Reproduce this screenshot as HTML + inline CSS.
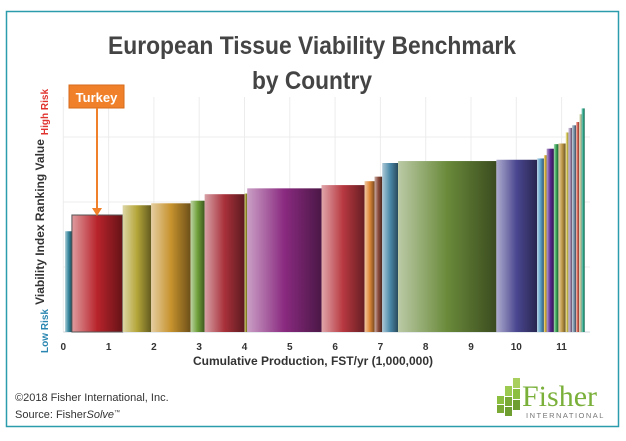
<!DOCTYPE html>
<html><head><meta charset="utf-8"><style>
body{margin:0;background:#fff;width:626px;height:436px;overflow:hidden;font-family:"Liberation Sans",sans-serif}
</style></head><body>
<svg id="chart" width="626" height="436" xmlns="http://www.w3.org/2000/svg">
<defs id="defs"></defs>
<rect x="6.5" y="11.5" width="612" height="415" fill="#fff" stroke="#2a9cab" stroke-width="1.5"/>
<text x="312" y="54" text-anchor="middle" font-size="25" font-weight="bold" fill="#444" textLength="408" lengthAdjust="spacingAndGlyphs">European Tissue Viability Benchmark</text>
<text x="312" y="89" text-anchor="middle" font-size="25" font-weight="bold" fill="#444" textLength="120" lengthAdjust="spacingAndGlyphs">by Country</text>
<g id="grid"></g><g id="bars"></g><g id="xticks"></g>
<text transform="translate(44,222) rotate(-90)" text-anchor="middle" font-size="12" font-weight="bold" fill="#333">Viability Index Ranking Value</text>
<text transform="translate(48,112) rotate(-90)" text-anchor="middle" font-size="10" font-weight="bold" fill="#e0332f">High Risk</text>
<text transform="translate(48,331) rotate(-90)" text-anchor="middle" font-size="10" font-weight="bold" fill="#2a86b0">Low Risk</text>
<text x="313" y="365" text-anchor="middle" font-size="12" font-weight="bold" fill="#333">Cumulative Production, FST/yr (1,000,000)</text>
<g>
<rect x="69" y="85" width="55" height="23" fill="#f0812a" stroke="#d66a1a"/>
<text x="96.5" y="102" text-anchor="middle" font-size="13" font-weight="bold" fill="#fff">Turkey</text>
<line x1="97" y1="108" x2="97" y2="212" stroke="#f0812a" stroke-width="2"/>
<polygon points="92,208 102,208 97,216" fill="#f0812a"/>
</g>
<text x="15" y="401" font-size="11" fill="#333">©2018 Fisher International, Inc.</text>
<text x="15" y="418" font-size="11" fill="#333">Source: Fisher<tspan font-style="italic">Solve</tspan><tspan font-size="6" dy="-4">™</tspan></text>
<g>
<rect x="497" y="396" width="7" height="8" fill="#8cbf3f"/><rect x="505" y="386" width="7" height="10" fill="#9cc94f"/><rect x="505" y="397" width="7" height="9" fill="#7aaa35"/>
<rect x="513" y="378" width="7" height="10" fill="#a9d05e"/><rect x="513" y="389" width="7" height="10" fill="#8cbf3f"/><rect x="513" y="400" width="7" height="10" fill="#6e9e30"/>
<rect x="497" y="405" width="7" height="8" fill="#7aaa35"/><rect x="505" y="407" width="7" height="9" fill="#6e9e30"/>
<text x="522" y="406" font-family="Liberation Serif,serif" font-size="30" fill="#7ab03a">Fisher</text>
<text x="526" y="418" font-size="7.5" fill="#777" letter-spacing="1.5">INTERNATIONAL</text>
</g>
</svg>
<script>
const widths=[0.15,1.12,0.63,0.87,0.31,0.88,0.06,1.64,0.95,0.22,0.17,0.35,2.17,0.90,0.15,0.06,0.16,0.10,0.16,0.06,0.08,0.09,0.07,0.05,0.07];
const values=[1.55,1.80,1.95,1.98,2.02,2.12,2.13,2.21,2.26,2.32,2.39,2.60,2.63,2.65,2.67,2.72,2.82,2.89,2.90,3.07,3.14,3.18,3.23,3.35,3.44];
const colors=["#3a8aa0","#b8232b","#b5a63a","#c7932e","#6fa03a","#a8303a","#a4a030","#8a2a80","#b83840","#e08a3a","#8a4a3a","#4a88a8","#6a8a3a","#4a4690","#5aa0c8","#d8b030","#5a2a90","#3aa858","#c09a48","#d8c850","#a890b8","#7890a8","#d86050","#c8d0a0","#2aa888"];
const xTicks=[0,1,2,3,4,5,6,7,8,9,10,11];
const yGrid=[1,2,3];
const startX=0.04;
const X0=63.3,XS=45.3,Y0=332,YS=65;
const xs=v=>X0+v*XS, ys=v=>Y0-v*YS;
const NS="http://www.w3.org/2000/svg";
const svg=document.getElementById('chart'),defs=document.getElementById('defs');
const grid=document.getElementById('grid'),bars=document.getElementById('bars'),xt=document.getElementById('xticks');
for(const t of xTicks){const l=document.createElementNS(NS,'line');


l.setAttribute('x1',xs(t));l.setAttribute('x2',xs(t));l.setAttribute('y1',97);l.setAttribute('y2',Y0);l.setAttribute('stroke','#ececec');grid.appendChild(l);
const tx=document.createElementNS(NS,'text');


tx.setAttribute('x',xs(t));tx.setAttribute('y',350);tx.setAttribute('text-anchor','middle');tx.setAttribute('font-size','10');tx.setAttribute('font-weight','bold');tx.setAttribute('fill','#333');tx.textContent=t;xt.appendChild(tx);}
for(const g of yGrid){const l=document.createElementNS(NS,'line');


l.setAttribute('x1',X0);l.setAttribute('x2',590);l.setAttribute('y1',ys(g));l.setAttribute('y2',ys(g));l.setAttribute('stroke','#ececec');grid.appendChild(l);}
const ax=document.createElementNS(NS,'line');


ax.setAttribute('x1',X0);ax.setAttribute('x2',590);ax.setAttribute('y1',Y0);ax.setAttribute('y2',Y0);ax.setAttribute('stroke','#c8d4dc');grid.appendChild(ax);
function shade(hex,f){const n=parseInt(hex.slice(1),16);let r=n>>16,g=(n>>8)&255,b=n&255;
if(f>0){r+=(255-r)*f;g+=(255-g)*f;b+=(255-b)*f}else{r*=1+f;g*=1+f;b*=1+f}
return `rgb(${r|0},${g|0},${b|0})`;}
let cum=startX;
widths.forEach((w,i)=>{const gr=document.createElementNS(NS,'linearGradient');gr.id='g'+i;
[[0,shade(colors[i],0.55)],[0.5,colors[i]],[1,shade(colors[i],-0.45)]].forEach(([o,c])=>{const s=document.createElementNS(NS,'stop');s.setAttribute('offset',o);s.setAttribute('stop-color',c);gr.appendChild(s);});
defs.appendChild(gr);
const r=document.createElementNS(NS,'rect');


r.setAttribute('x',xs(cum));r.setAttribute('width',w*XS);r.setAttribute('y',ys(values[i]));r.setAttribute('height',Y0-ys(values[i]));
r.setAttribute('fill','url(#g'+i+')');
if(i===1){r.setAttribute('stroke','#555');r.setAttribute('stroke-width','1');}
bars.appendChild(r);cum+=w;});
</script>
</body></html>
